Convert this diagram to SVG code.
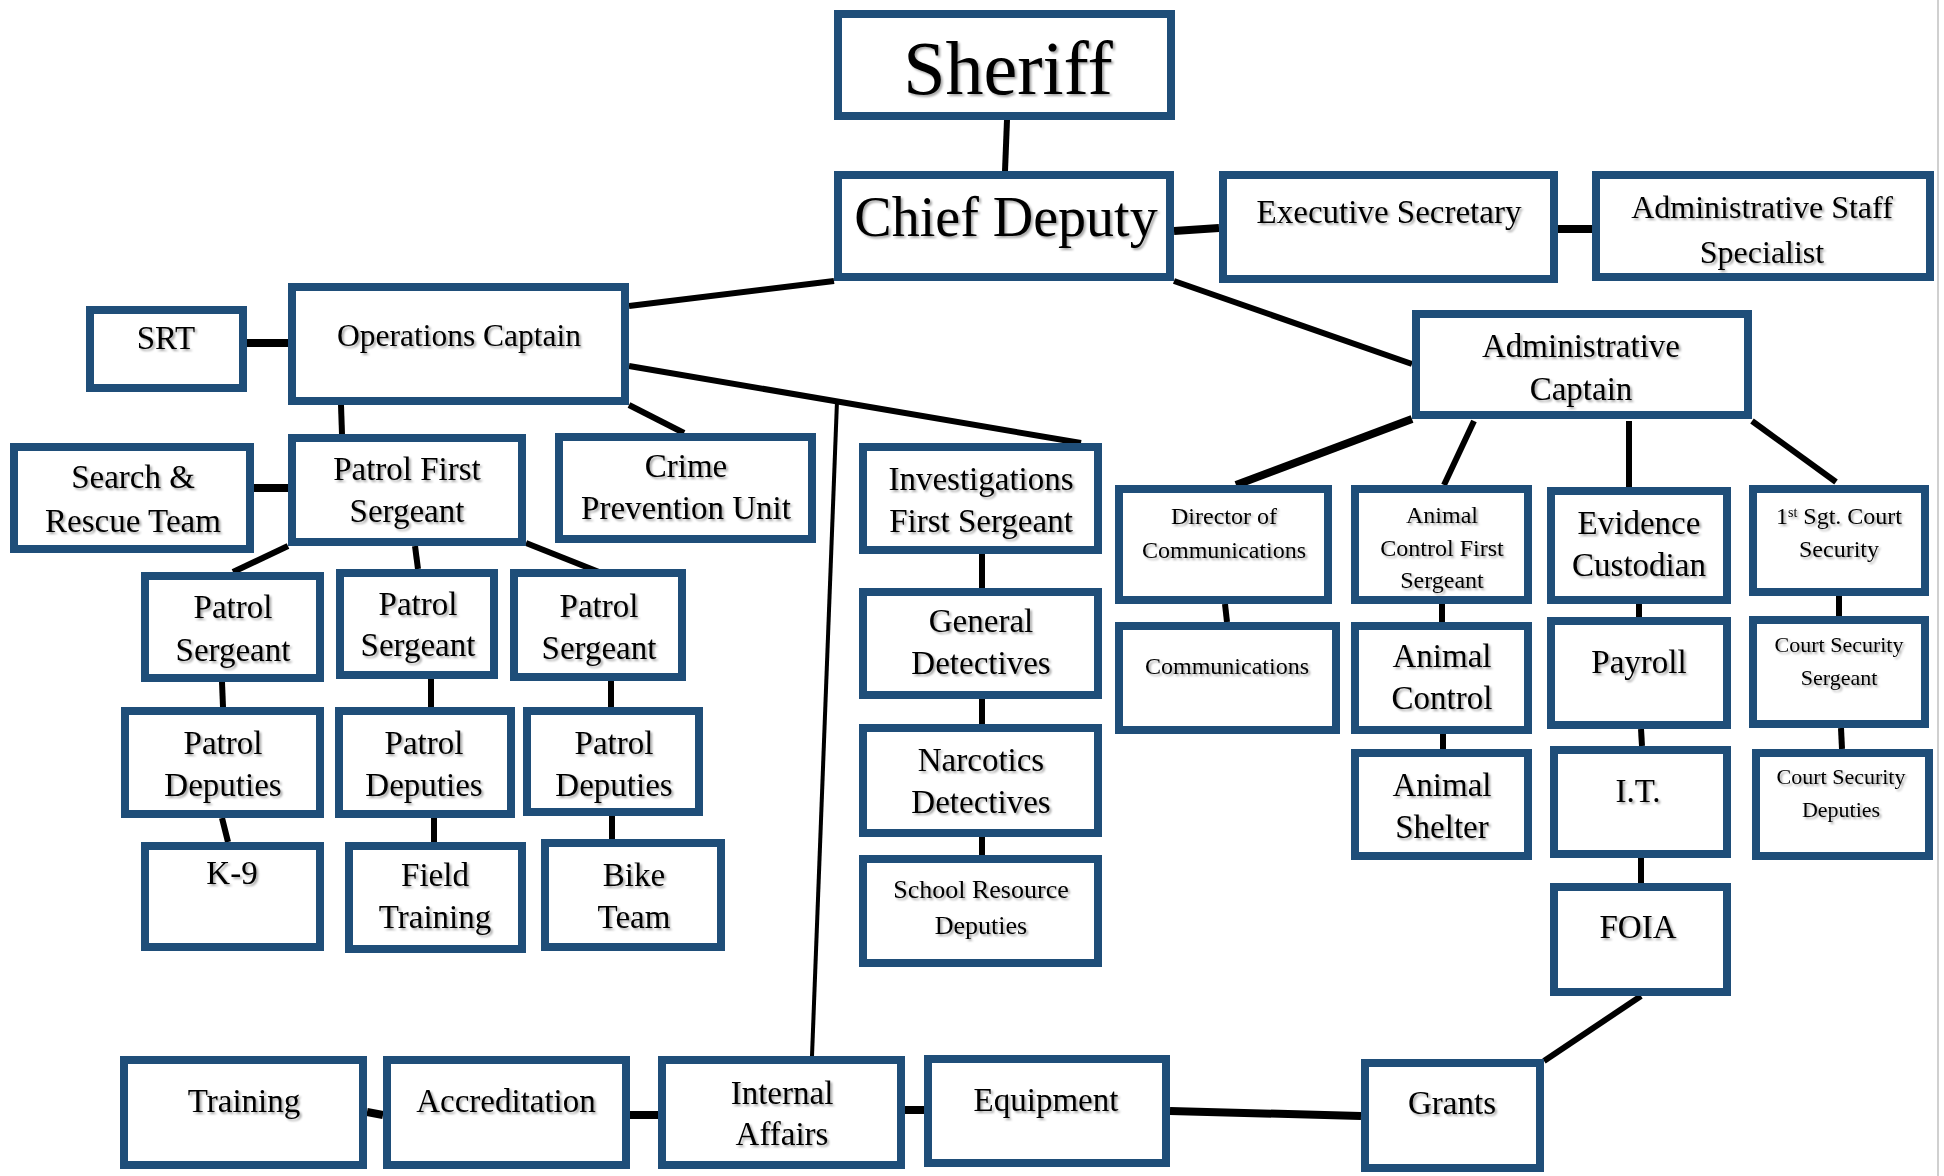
<svg xmlns="http://www.w3.org/2000/svg" width="1944" height="1176" viewBox="0 0 1944 1176">
<defs>
<filter id="sh" x="-10%" y="-20%" width="120%" height="150%">
<feDropShadow dx="2" dy="2" stdDeviation="1.2" flood-color="#000" flood-opacity="0.35"/>
</filter>
</defs>
<style>
.box{fill:#fff;stroke:#1F4E79;stroke-width:8}
text{font-family:"Liberation Serif","Times New Roman",serif;fill:#000;text-anchor:middle;filter:url(#sh)}
.m{font-size:33px}
.s{font-size:24px}
.xs{font-size:22px}
.c{stroke:#000;stroke-width:6;fill:none}
.t{stroke:#000;stroke-width:4;fill:none}
.k{stroke:#000;stroke-width:8;fill:none}
</style>
<rect x="0" y="0" width="1944" height="1176" fill="#fff"/>
<line x1="1938" y1="0" x2="1938" y2="1176" stroke="#d0d0d0" stroke-width="2"/>
<g id="connectors">
<line class="c" x1="1007" y1="120" x2="1005" y2="171"/>
<line class="k" x1="1174" y1="231" x2="1219" y2="228"/>
<line class="k" x1="1558" y1="229" x2="1592" y2="229"/>
<line class="c" x1="834" y1="281" x2="629" y2="306"/>
<line class="c" x1="1174" y1="281" x2="1412" y2="364"/>
<line class="k" x1="247" y1="343" x2="288" y2="343"/>
<line class="c" x1="341" y1="405" x2="342" y2="434"/>
<line class="c" x1="629" y1="405" x2="684" y2="433"/>
<line class="c" x1="629" y1="366" x2="1081" y2="443"/>
<line class="t" x1="837" y1="401" x2="812" y2="1056"/>
<line class="k" x1="254" y1="488" x2="288" y2="488"/>
<line class="c" x1="288" y1="546" x2="233" y2="572"/>
<line class="c" x1="415" y1="546" x2="418" y2="569"/>
<line class="c" x1="526" y1="543" x2="599" y2="572"/>
<line class="c" x1="222" y1="682" x2="223" y2="707"/>
<line class="c" x1="431" y1="679" x2="431" y2="707"/>
<line class="c" x1="611" y1="681" x2="611" y2="707"/>
<line class="c" x1="222" y1="818" x2="228" y2="842"/>
<line class="c" x1="434" y1="818" x2="434" y2="842"/>
<line class="c" x1="612" y1="816" x2="612" y2="839"/>
<line class="c" x1="982" y1="554" x2="982" y2="588"/>
<line class="c" x1="982" y1="699" x2="982" y2="724"/>
<line class="c" x1="982" y1="837" x2="982" y2="855"/>
<line class="k" x1="1412" y1="419" x2="1236" y2="485"/>
<line class="c" x1="1474" y1="421" x2="1444" y2="485"/>
<line class="c" x1="1629" y1="421" x2="1629" y2="487"/>
<line class="c" x1="1752" y1="421" x2="1836" y2="482"/>
<line class="c" x1="1225" y1="604" x2="1227" y2="622"/>
<line class="c" x1="1442" y1="604" x2="1442" y2="622"/>
<line class="c" x1="1443" y1="734" x2="1443" y2="749"/>
<line class="c" x1="1639" y1="604" x2="1639" y2="617"/>
<line class="c" x1="1641" y1="729" x2="1642" y2="746"/>
<line class="c" x1="1641" y1="858" x2="1641" y2="883"/>
<line class="c" x1="1839" y1="596" x2="1839" y2="616"/>
<line class="c" x1="1841" y1="728" x2="1842" y2="749"/>
<line class="c" x1="1641" y1="996" x2="1544" y2="1061"/>
<line class="k" x1="367" y1="1112" x2="383" y2="1115"/>
<line class="k" x1="630" y1="1115" x2="658" y2="1115"/>
<line class="k" x1="905" y1="1110" x2="924" y2="1110"/>
<line class="k" x1="1170" y1="1111" x2="1361" y2="1116"/>
</g>
<g id="sheriff"><rect class="box" x="838" y="14" width="333" height="102"/><text x="1008" y="94" style="font-size:76px">Sheriff</text></g>
<g id="chief-deputy"><rect class="box" x="838" y="175" width="332" height="102"/><text x="1006" y="236" style="font-size:56px">Chief Deputy</text></g>
<g id="executive-secretary"><rect class="box" x="1223" y="175" width="331" height="104"/><text class="m" x="1389" y="223">Executive Secretary</text></g>
<g id="administrative-staff-specialist"><rect class="box" x="1596" y="175" width="334" height="102"/><text x="1762" y="218" style="font-size:32px">Administrative Staff</text><text x="1762" y="263" style="font-size:32px">Specialist</text></g>
<g id="operations-captain"><rect class="box" x="292" y="287" width="333" height="114"/><text x="459" y="346" style="font-size:31.5px">Operations Captain</text></g>
<g id="srt"><rect class="box" x="90" y="310" width="153" height="78"/><text class="m" x="166" y="349">SRT</text></g>
<g id="administrative-captain"><rect class="box" x="1416" y="314" width="332" height="101"/><text class="m" x="1581" y="357">Administrative</text><text class="m" x="1581" y="400">Captain</text></g>
<g id="search-rescue-team"><rect class="box" x="14" y="447" width="236" height="102"/><text class="m" x="133" y="488">Search &amp;</text><text class="m" x="133" y="532">Rescue Team</text></g>
<g id="patrol-first-sergeant"><rect class="box" x="292" y="438" width="230" height="104"/><text class="m" x="407" y="480">Patrol First</text><text class="m" x="407" y="522">Sergeant</text></g>
<g id="crime-prevention-unit"><rect class="box" x="559" y="437" width="253" height="102"/><text class="m" x="686" y="477">Crime</text><text class="m" x="686" y="519">Prevention Unit</text></g>
<g id="investigations-first-sergeant"><rect class="box" x="863" y="447" width="235" height="103"/><text class="m" x="981" y="490">Investigations</text><text class="m" x="981" y="532">First Sergeant</text></g>
<g id="director-of-communications"><rect class="box" x="1119" y="489" width="209" height="111"/><text class="s" x="1224" y="524">Director of</text><text class="s" x="1224" y="558">Communications</text></g>
<g id="animal-control-first-sergeant"><rect class="box" x="1355" y="489" width="173" height="111"/><text class="s" x="1442" y="523">Animal</text><text class="s" x="1442" y="556">Control First</text><text class="s" x="1442" y="588">Sergeant</text></g>
<g id="evidence-custodian"><rect class="box" x="1551" y="491" width="176" height="109"/><text class="m" x="1639" y="534">Evidence</text><text class="m" x="1639" y="576">Custodian</text></g>
<g id="first-sgt-court-security"><rect class="box" x="1753" y="489" width="172" height="103"/><text class="s" x="1839" y="524">1<tspan style="font-size:14px" baseline-shift="super">st</tspan> Sgt. Court</text><text class="s" x="1839" y="557">Security</text></g>
<g id="patrol-sergeant-1"><rect class="box" x="145" y="576" width="175" height="102"/><text class="m" x="233" y="618">Patrol</text><text class="m" x="233" y="661">Sergeant</text></g>
<g id="patrol-sergeant-2"><rect class="box" x="340" y="573" width="154" height="102"/><text class="m" x="418" y="615">Patrol</text><text class="m" x="418" y="656">Sergeant</text></g>
<g id="patrol-sergeant-3"><rect class="box" x="514" y="573" width="168" height="104"/><text class="m" x="599" y="617">Patrol</text><text class="m" x="599" y="659">Sergeant</text></g>
<g id="patrol-deputies-1"><rect class="box" x="125" y="711" width="195" height="103"/><text class="m" x="223" y="754">Patrol</text><text class="m" x="223" y="796">Deputies</text></g>
<g id="patrol-deputies-2"><rect class="box" x="339" y="711" width="172" height="103"/><text class="m" x="424" y="754">Patrol</text><text class="m" x="424" y="796">Deputies</text></g>
<g id="patrol-deputies-3"><rect class="box" x="527" y="711" width="172" height="101"/><text class="m" x="614" y="754">Patrol</text><text class="m" x="614" y="796">Deputies</text></g>
<g id="k-9"><rect class="box" x="145" y="846" width="175" height="101"/><text class="m" x="232" y="884">K-9</text></g>
<g id="field-training"><rect class="box" x="349" y="846" width="173" height="103"/><text class="m" x="435" y="886">Field</text><text class="m" x="435" y="928">Training</text></g>
<g id="bike-team"><rect class="box" x="545" y="843" width="176" height="104"/><text class="m" x="634" y="886">Bike</text><text class="m" x="634" y="928">Team</text></g>
<g id="general-detectives"><rect class="box" x="863" y="592" width="235" height="103"/><text class="m" x="981" y="632">General</text><text class="m" x="981" y="674">Detectives</text></g>
<g id="narcotics-detectives"><rect class="box" x="863" y="728" width="235" height="105"/><text class="m" x="981" y="771">Narcotics</text><text class="m" x="981" y="813">Detectives</text></g>
<g id="school-resource-deputies"><rect class="box" x="863" y="859" width="235" height="104"/><text x="981" y="898" style="font-size:26px">School Resource</text><text x="981" y="934" style="font-size:26px">Deputies</text></g>
<g id="communications"><rect class="box" x="1119" y="626" width="217" height="104"/><text class="s" x="1227" y="674">Communications</text></g>
<g id="animal-control"><rect class="box" x="1355" y="626" width="173" height="104"/><text class="m" x="1442" y="667">Animal</text><text class="m" x="1442" y="709">Control</text></g>
<g id="animal-shelter"><rect class="box" x="1355" y="753" width="173" height="103"/><text class="m" x="1442" y="796">Animal</text><text class="m" x="1442" y="838">Shelter</text></g>
<g id="payroll"><rect class="box" x="1551" y="621" width="176" height="104"/><text class="m" x="1639" y="673">Payroll</text></g>
<g id="it"><rect class="box" x="1554" y="750" width="173" height="104"/><text class="m" x="1638" y="802">I.T.</text></g>
<g id="foia"><rect class="box" x="1554" y="887" width="173" height="105"/><text class="m" x="1638" y="938">FOIA</text></g>
<g id="court-security-sergeant"><rect class="box" x="1753" y="620" width="172" height="104"/><text class="xs" x="1839" y="652">Court Security</text><text class="xs" x="1839" y="685">Sergeant</text></g>
<g id="court-security-deputies"><rect class="box" x="1756" y="753" width="173" height="103"/><text class="xs" x="1841" y="784">Court Security</text><text class="xs" x="1841" y="817">Deputies</text></g>
<g id="training"><rect class="box" x="124" y="1060" width="239" height="105"/><text class="m" x="244" y="1112">Training</text></g>
<g id="accreditation"><rect class="box" x="387" y="1060" width="239" height="105"/><text class="m" x="506" y="1112">Accreditation</text></g>
<g id="internal-affairs"><rect class="box" x="662" y="1060" width="239" height="105"/><text class="m" x="782" y="1104">Internal</text><text class="m" x="782" y="1145">Affairs</text></g>
<g id="equipment"><rect class="box" x="928" y="1059" width="238" height="104"/><text class="m" x="1046" y="1111">Equipment</text></g>
<g id="grants"><rect class="box" x="1365" y="1063" width="175" height="105"/><text class="m" x="1452" y="1114">Grants</text></g>
</svg>
